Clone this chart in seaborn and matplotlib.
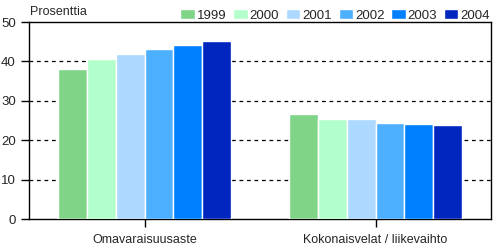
import matplotlib
matplotlib.use("Agg")
import matplotlib.pyplot as plt
import seaborn as sns
import pandas as pd

categories = ["Omavaraisuusaste", "Kokonaisvelat / liikevaihto"]
years = ["1999", "2000", "2001", "2002", "2003", "2004"]
omavaraisuusaste = [38.1, 40.6, 41.9, 43.1, 44.2, 45.2]
kokonaisvelat = [26.6, 25.4, 25.3, 24.4, 24.1, 23.9]
colors = ["#80D488", "#B3FFCC", "#ADD8FF", "#4DAFFF", "#0080FF", "#0026BF"]

rows = []
for y, v in zip(years, omavaraisuusaste):
    rows.append({"cat": categories[0], "year": y, "val": v})
for y, v in zip(years, kokonaisvelat):
    rows.append({"cat": categories[1], "year": y, "val": v})
df = pd.DataFrame(rows)

sns.set_style("white")
plt.rcParams['font.family'] = ['Liberation Sans', 'DejaVu Sans']

fig = plt.figure(figsize=(4.93, 2.45), dpi=100)
ax = fig.add_axes([29/493, 1 - 219/245, (491 - 29)/493, (219 - 22)/245])

sns.barplot(data=df, x="cat", y="val", hue="year", order=categories,
            hue_order=years, palette=colors, width=0.745, ax=ax,
            edgecolor="white", linewidth=1, saturation=1, zorder=3)

ax.set_ylim(0, 50)
ax.set_xlim(-0.5, 1.5)
ax.set_yticks([0, 10, 20, 30, 40, 50])
for yv in [10, 20, 30, 40]:
    ax.axhline(yv, color="black", linestyle=(0, (3, 3)), linewidth=0.9, zorder=1)
ax.set_xlabel("")
ax.set_ylabel("")
for s in ax.spines.values():
    s.set_visible(True)
    s.set_color("black")
    s.set_linewidth(1)
ax.tick_params(axis="both", which="both", length=6, width=1, color="black",
               labelsize=9, direction="out", left=True, bottom=True)
ax.tick_params(axis="y", pad=3.5, labelsize=9.5)
ax.tick_params(axis="x", pad=5)

handles, labels = ax.get_legend_handles_labels()
ax.legend(handles, labels, ncol=6, loc="lower right", bbox_to_anchor=(1.0, 0.995),
          frameon=False, fontsize=9.5, handlelength=1.1, handleheight=0.7,
          handletextpad=0.15, columnspacing=0.5, borderaxespad=0, borderpad=0.1)

fig.text(30/493, 1 - 12/245, "Prosenttia", fontsize=9, va="center", ha="left")

fig.savefig("out.png", dpi=100)
